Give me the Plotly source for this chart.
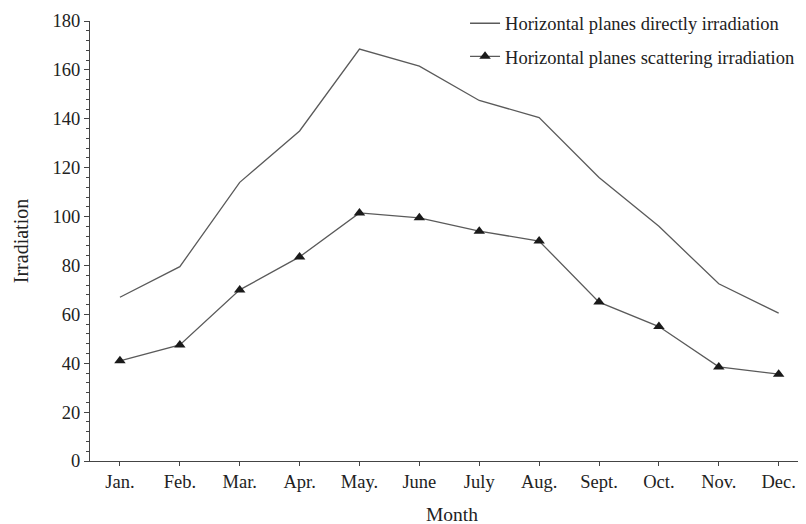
import plotly.graph_objects as go

months = ["Jan.", "Feb.", "Mar.", "Apr.", "May.", "June", "July", "Aug.", "Sept.", "Oct.", "Nov.", "Dec."]
direct = [67, 79.5, 114, 135, 168.5, 161.5, 147.5, 140.5, 116, 96, 72.5, 60.5]
scatter = [41, 47.5, 70, 83.5, 101.5, 99.5, 94, 90, 65, 55, 38.5, 35.5]

font_family = "Liberation Serif"

fig = go.Figure()
fig.add_trace(go.Scatter(
    x=list(range(len(months))), y=direct, mode="lines",
    name="Horizontal planes directly irradiation", legendgroup="a",
    line=dict(color="#5a5a5a", width=1.3),
))
fig.add_trace(go.Scatter(
    x=list(range(len(months))), y=scatter, mode="lines+markers",
    name="Horizontal planes scattering irradiation", legendgroup="b",
    line=dict(color="#5a5a5a", width=1.3),
    marker=dict(symbol="triangle-up", size=10, color="#1a1a1a"),
))

fig.update_layout(
    width=806, height=524,
    margin=dict(l=82, r=0, t=12.7, b=71.3, autoexpand=False),
    plot_bgcolor="white", paper_bgcolor="white",
    font=dict(family=font_family, size=18.5, color="#222222"),
    showlegend=True,
    legend=dict(x=0.518, y=1.037, xanchor="left", yanchor="top",
                bgcolor="rgba(0,0,0,0)", font=dict(size=18.5, family=font_family),
                tracegroupgap=6, itemwidth=30),
    xaxis=dict(
        tickmode="array", tickvals=list(range(len(months))), ticktext=months,
        range=[-0.5, 11.59], showgrid=False, zeroline=False, automargin=False,
        showline=True, linecolor="#444444", linewidth=1.2,
        ticks="outside", ticklen=4, tickcolor="#444444",
        title=dict(text="Month", font=dict(size=19.5), standoff=16),
    ),
    yaxis=dict(
        range=[0, 180], dtick=20, showgrid=False, zeroline=False, automargin=False,
        showline=True, linecolor="#444444", linewidth=1.2,
        ticks="outside", ticklen=5, tickcolor="#444444",
        minor=dict(dtick=4, ticks="outside", ticklen=3, tickcolor="#444444"),
        title=dict(text="Irradiation", font=dict(size=20), standoff=18),
    ),
)

fig.write_html("out.html")
